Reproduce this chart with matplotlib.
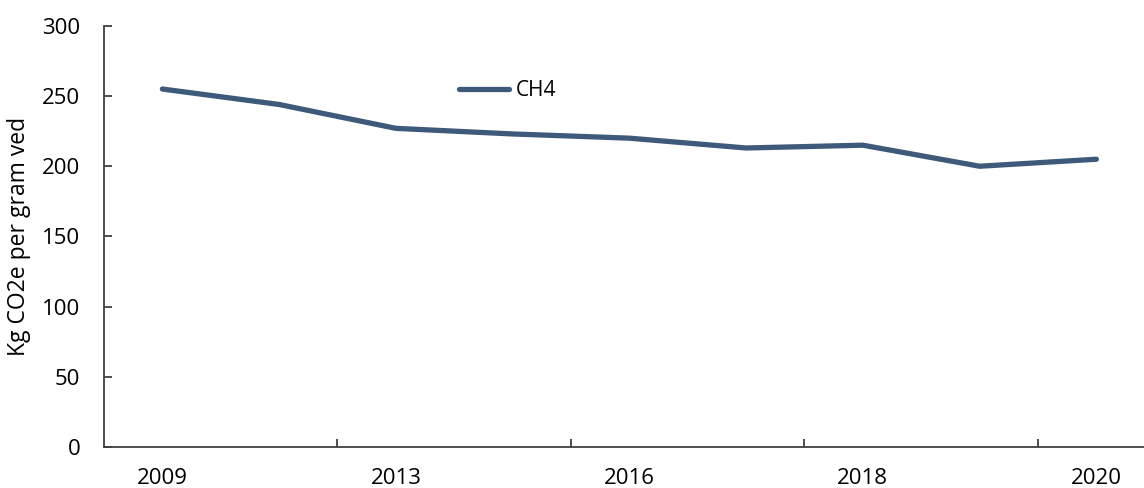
import matplotlib
matplotlib.use("Agg")
import matplotlib.pyplot as plt
from matplotlib.lines import Line2D

# Methane emissions per gram of product over the years
years = ["2009", "2011", "2013", "2015", "2016", "2017", "2018", "2019", "2020"]
shown_labels = ["2009", "", "2013", "", "2016", "", "2018", "", "2020"]
ch4 = [255, 244, 227, 223, 220, 213, 215, 200, 205]

line_color = "#3E5A7A"
plt.rcParams["font.family"] = ["Open Sans", "DejaVu Sans"]

fig = plt.figure(figsize=(11.44, 4.88), dpi=100)
ax = fig.add_axes([0.0909, 0.084, 0.9185, 0.863])

x = list(range(len(years)))
ax.plot(x, ch4, color=line_color, lw=3.8, solid_capstyle="round",
        solid_joinstyle="round", label="CH4")

ax.set_xlim(-0.5, len(years) - 0.5)
ax.set_ylim(0, 300)
ax.set_yticks(range(0, 301, 50))

# Category labels centred on points, tick marks on every other boundary
ax.set_xticks(x)
ax.set_xticklabels(shown_labels)
ax.tick_params(axis="x", length=0, pad=15, labelsize=16)
ax.set_xticks([1.5, 3.5, 5.5, 7.5], minor=True)
ax.tick_params(axis="x", which="minor", direction="in", length=6, width=1.3,
               color="#404040")
ax.tick_params(axis="y", direction="in", length=6, width=1.3, color="#404040",
               labelsize=16, pad=17)

for side in ("top", "right"):
    ax.spines[side].set_visible(False)
for side in ("left", "bottom"):
    ax.spines[side].set_color("#404040")
    ax.spines[side].set_linewidth(1.3)

ax.set_ylabel("Kg CO2e per gram ved", fontsize=16.5, labelpad=8)

handle = Line2D([0], [0], color=line_color, lw=3.8, solid_capstyle="round")
ax.legend([handle], ["CH4"], loc="center left", bbox_to_anchor=(0.33, 0.846),
          frameon=False, fontsize=15, handlelength=2.4, handletextpad=0.3,
          borderaxespad=0)

fig.savefig("out.png", dpi=100)
